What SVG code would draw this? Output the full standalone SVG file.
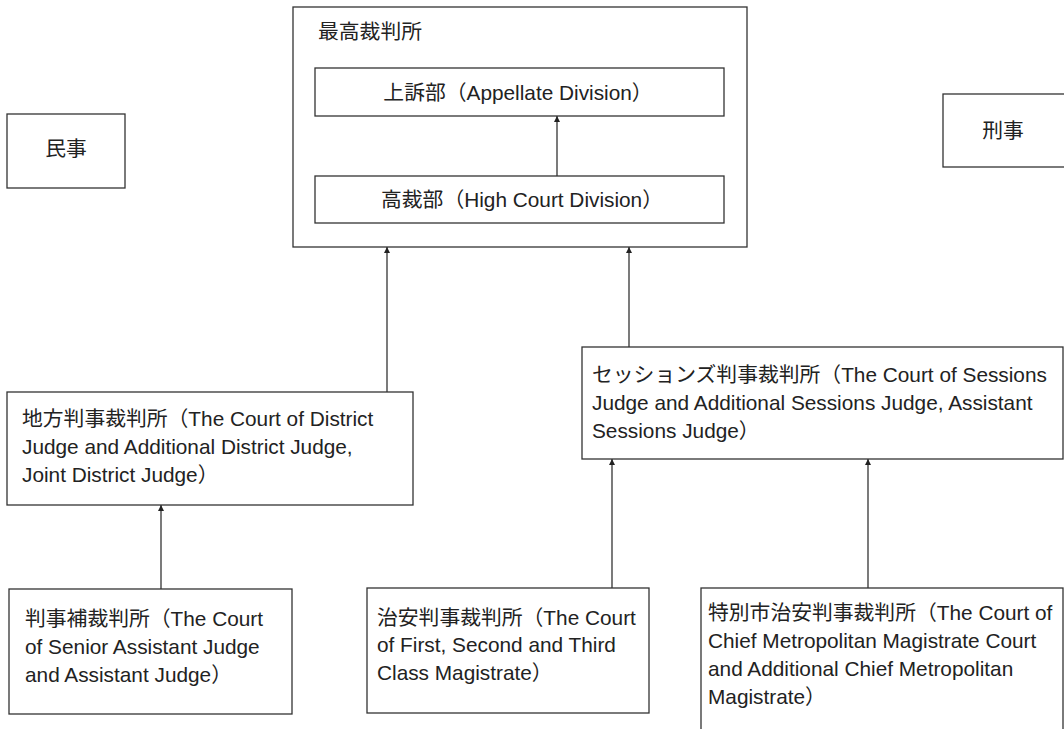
<svg xmlns="http://www.w3.org/2000/svg" width="1064" height="729" viewBox="0 0 1064 729">
<style>
.box{fill:#fff;stroke:#333;stroke-width:1.3}
text{font-family:"Liberation Sans","Noto Sans CJK JP",sans-serif;font-size:20.8px;fill:#222}
.c{text-anchor:middle}
.conn{stroke:#333;stroke-width:1.3;fill:none}
</style>
<defs>
<marker id="arr" viewBox="0 0 10 10" refX="10" refY="5" markerWidth="6" markerHeight="8" markerUnits="userSpaceOnUse" orient="auto">
<path d="M0,0 L10,5 L0,10 z" fill="#222"/>
</marker>
</defs>
<rect width="1064" height="729" fill="#fff"/>
<g id="supreme">
<rect class="box" x="293" y="7" width="454" height="240"/>
<text x="318" y="39">最高裁判所</text>
</g>
<g id="appellate">
<rect class="box" x="315" y="68" width="409" height="48"/>
<text class="c" x="518" y="100">上訴部（Appellate Division）</text>
</g>
<g id="highcourt">
<rect class="box" x="315" y="176" width="409" height="47"/>
<text class="c" x="522" y="207">高裁部（High Court Division）</text>
</g>
<g id="civil">
<rect class="box" x="7" y="114" width="118" height="74"/>
<text class="c" x="66" y="156">民事</text>
</g>
<g id="criminal">
<rect class="box" x="943" y="94" width="130" height="73"/>
<text class="c" x="1003" y="138">刑事</text>
</g>
<g id="district">
<rect class="box" x="7" y="392" width="406" height="113"/>
<text x="22" y="426">地方判事裁判所（The Court of District</text>
<text x="22" y="454">Judge and Additional District Judge,</text>
<text x="22" y="482">Joint District Judge）</text>
</g>
<g id="sessions">
<rect class="box" x="582" y="347" width="481" height="112"/>
<text x="592" y="382">セッションズ判事裁判所（The Court of Sessions</text>
<text x="592" y="410">Judge and Additional Sessions Judge, Assistant</text>
<text x="592" y="438">Sessions Judge）</text>
</g>
<g id="junior">
<rect class="box" x="9" y="589" width="283" height="125"/>
<text x="25" y="626">判事補裁判所（The Court</text>
<text x="25" y="654">of Senior Assistant Judge</text>
<text x="25" y="682">and Assistant Judge）</text>
</g>
<g id="magistrate">
<rect class="box" x="367" y="588" width="282" height="125"/>
<text x="377" y="625">治安判事裁判所（The Court</text>
<text x="377" y="652">of First, Second and Third</text>
<text x="377" y="680">Class Magistrate）</text>
</g>
<g id="metro">
<rect class="box" x="701" y="588" width="362" height="160"/>
<text x="708" y="620">特別市治安判事裁判所（The Court of</text>
<text x="708" y="648">Chief Metropolitan Magistrate Court</text>
<text x="708" y="676">and Additional Chief Metropolitan</text>
<text x="708" y="704">Magistrate）</text>
</g>
<g id="connectors">
<line class="conn" x1="557" y1="176" x2="557" y2="116" marker-end="url(#arr)"/>
<line class="conn" x1="387" y1="392" x2="387" y2="247" marker-end="url(#arr)"/>
<line class="conn" x1="629" y1="347" x2="629" y2="247" marker-end="url(#arr)"/>
<line class="conn" x1="161" y1="589" x2="161" y2="505" marker-end="url(#arr)"/>
<line class="conn" x1="612" y1="588" x2="612" y2="459" marker-end="url(#arr)"/>
<line class="conn" x1="868" y1="588" x2="868" y2="459" marker-end="url(#arr)"/>
</g>
</svg>
